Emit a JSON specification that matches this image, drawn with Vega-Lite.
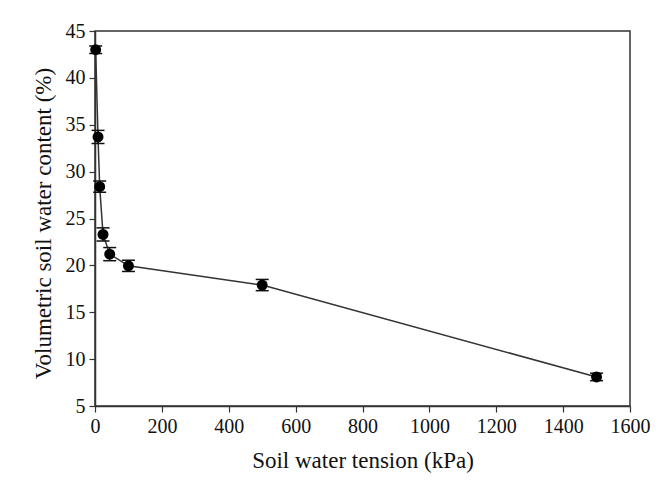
{
  "$schema": "https://vega.github.io/schema/vega-lite/v6.json",
  "width": 535,
  "height": 375,
  "autosize": "none",
  "padding": {"left": 95, "top": 31, "right": 28, "bottom": 84},
  "background": "white",
  "config": {
    "view": {"stroke": "#333", "strokeWidth": 1.5},
    "axis": {
      "grid": false,
      "domainColor": "#333",
      "domainWidth": 1.5,
      "tickColor": "#333",
      "tickWidth": 1.2,
      "tickSize": 6,
      "labelFont": "Liberation Serif",
      "titleFont": "Liberation Serif",
      "labelFontSize": 20,
      "titleFontSize": 23,
      "labelColor": "#111",
      "titleColor": "#111",
      "titleFontWeight": "normal",
      "labelPadding": 4,
      "format": "d"
    }
  },
  "data": {
    "values": [
      {"tension": 2, "theta": 43.0, "lo": 42.6, "hi": 43.4},
      {"tension": 9, "theta": 33.7, "lo": 33.0, "hi": 34.4},
      {"tension": 14, "theta": 28.4, "lo": 27.8, "hi": 29.0},
      {"tension": 24, "theta": 23.3, "lo": 22.6, "hi": 24.0},
      {"tension": 44, "theta": 21.2, "lo": 20.5, "hi": 21.9},
      {"tension": 100, "theta": 19.95, "lo": 19.35, "hi": 20.55},
      {"tension": 500, "theta": 17.9, "lo": 17.3, "hi": 18.5},
      {"tension": 1500, "theta": 8.1, "lo": 7.7, "hi": 8.5}
    ]
  },
  "encoding": {
    "x": {
      "field": "tension",
      "type": "quantitative",
      "scale": {"domain": [0, 1600], "nice": false},
      "axis": {"values": [0, 200, 400, 600, 800, 1000, 1200, 1400, 1600], "format": "d", "labelOverlap": false, "labelBound": false, "labelFlush": false, "title": "Soil water tension (kPa)", "titlePadding": 13}
    }
  },
  "layer": [
    {
      "mark": {"type": "line", "color": "#333", "strokeWidth": 1.5},
      "encoding": {
        "y": {
          "field": "theta",
          "type": "quantitative",
          "scale": {"domain": [5, 45], "nice": false},
          "axis": {"values": [5, 10, 15, 20, 25, 30, 35, 40, 45], "format": "d", "labelOverlap": false, "labelFlush": false, "title": "Volumetric soil water content (%)", "titlePadding": 10, "titleY": 192}
        }
      }
    },
    {
      "mark": {"type": "rule", "color": "#111", "strokeWidth": 1.5},
      "encoding": {
        "y": {"field": "lo", "type": "quantitative"},
        "y2": {"field": "hi"}
      }
    },
    {
      "mark": {"type": "tick", "orient": "horizontal", "size": 13, "thickness": 1.5, "color": "#111", "opacity": 1},
      "encoding": {"y": {"field": "lo", "type": "quantitative"}}
    },
    {
      "mark": {"type": "tick", "orient": "horizontal", "size": 13, "thickness": 1.5, "color": "#111", "opacity": 1},
      "encoding": {"y": {"field": "hi", "type": "quantitative"}}
    },
    {
      "mark": {"type": "circle", "size": 120, "color": "#000", "opacity": 1},
      "encoding": {"y": {"field": "theta", "type": "quantitative"}}
    }
  ]
}
